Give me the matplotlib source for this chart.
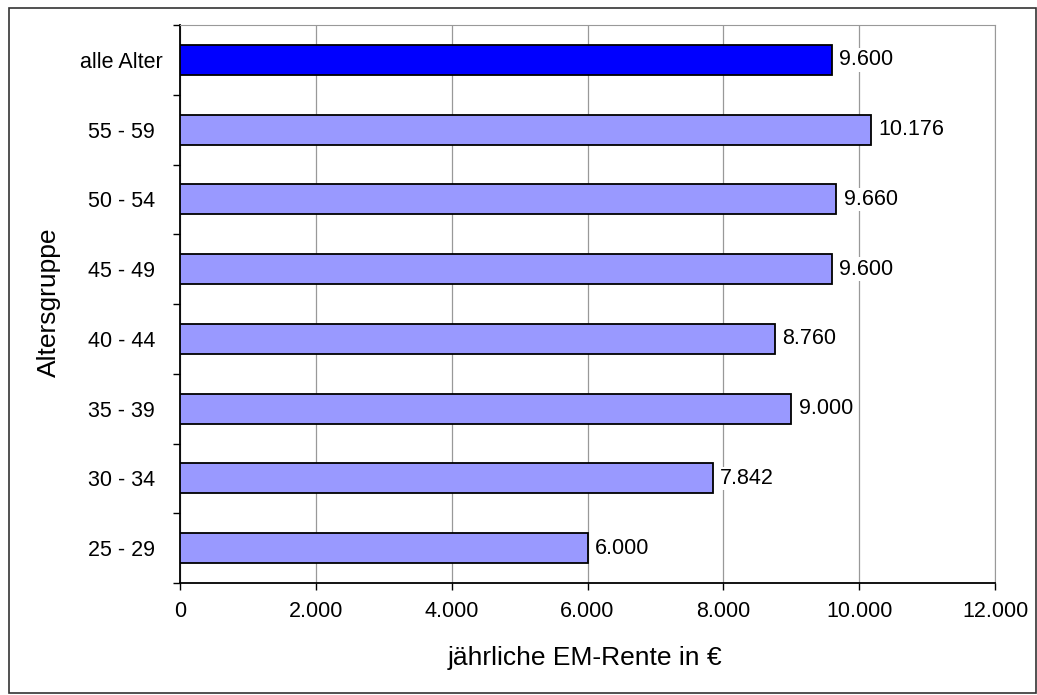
import matplotlib
matplotlib.use("Agg")
import matplotlib.pyplot as plt
from matplotlib.patches import Rectangle
from matplotlib.ticker import FuncFormatter

# Altersgruppen von unten nach oben
groups = ["25 - 29", "30 - 34", "35 - 39", "40 - 44", "45 - 49", "50 - 54", "55 - 59", "alle Alter"]
values = [6000, 7842, 9000, 8760, 9600, 9660, 10176, 9600]
colors = ["#9999FF"] * 7 + ["#0000FF"]

plt.rcParams["font.family"] = ["Liberation Sans", "DejaVu Sans"]


def de_format(v, pos=None):
    # deutsches Tausendertrennzeichen
    return f"{int(round(v)):,}".replace(",", ".")


fig = plt.figure(figsize=(10.37, 6.95), dpi=100)
ax = fig.add_axes([180 / 1037, 1 - 583 / 695, 815 / 1037, 558 / 695])

pos = list(range(len(groups)))
ax.barh(pos, values, height=0.43, color=colors, edgecolor="black", linewidth=1.3, zorder=3)

for p, v in zip(pos, values):
    ax.text(v + 110, p, de_format(v), va="center", ha="left", fontsize=15.5,
            bbox=dict(facecolor="white", edgecolor="none", pad=1), zorder=4)

ax.set_xlim(0, 12000)
ax.set_ylim(-0.5, len(groups) - 0.5)
ax.set_xticks(range(0, 12001, 2000))
ax.xaxis.set_major_formatter(FuncFormatter(de_format))

# Kategorien zentriert beschriften, Striche zwischen den Gruppen
ax.set_yticks(pos)
ax.set_yticklabels(groups, fontsize=15.5)
for lbl in ax.get_yticklabels():
    lbl.set_horizontalalignment("center")
ax.tick_params(axis="y", which="major", length=0, pad=42)
ax.set_yticks([p - 0.5 for p in pos] + [len(groups) - 0.5], minor=True)
ax.tick_params(axis="y", which="minor", length=5, width=1, direction="out")
ax.tick_params(axis="x", length=5, width=1, labelsize=15.5, pad=8, direction="out")

ax.grid(axis="x", color="#999999", linewidth=0.9, zorder=0)

ax.spines["left"].set_color("black")
ax.spines["bottom"].set_color("black")
ax.spines["left"].set_linewidth(1.3)
ax.spines["bottom"].set_linewidth(1.3)
ax.spines["top"].set_color("#999999")
ax.spines["right"].set_color("#999999")

ax.set_xlabel("jährliche EM-Rente in €", fontsize=19, va="center")
ax.xaxis.set_label_coords(0.4975, -0.134)
ax.set_ylabel("Altersgruppe", fontsize=19, va="center")
ax.yaxis.set_label_coords(-0.1607, 0.503)

# Rahmen um die ganze Grafik
fig.patches.append(Rectangle((9 / 1037, 2 / 695), 1 - 10 / 1037, 1 - 10 / 695,
                             transform=fig.transFigure, fill=False,
                             edgecolor="#333333", linewidth=1.2))

fig.savefig("out.png", dpi=100)
